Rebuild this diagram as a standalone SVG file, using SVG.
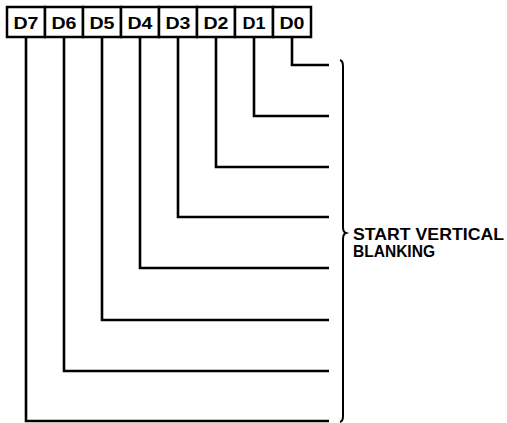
<svg xmlns="http://www.w3.org/2000/svg" width="507" height="423" viewBox="0 0 507 423">
<style>
.cell{fill:#fff;stroke:#000;stroke-width:2.5}
.lbl{font-family:"Liberation Sans",Arial,sans-serif;font-weight:bold;font-size:16px;fill:#000;text-anchor:middle}
.wire{fill:none;stroke:#000;stroke-width:2.6;stroke-linejoin:miter}
.brace{fill:none;stroke:#000;stroke-width:2}
.note{font-family:"Liberation Sans",Arial,sans-serif;font-weight:bold;font-size:16.5px;fill:#000}
</style>
<rect width="507" height="423" fill="#fff"/>
<g id="D7"><rect class="cell" x="7" y="7" width="38" height="30"/><text class="lbl" x="26" y="29" textLength="25" lengthAdjust="spacingAndGlyphs">D7</text></g>
<g id="D6"><rect class="cell" x="45" y="7" width="38" height="30"/><text class="lbl" x="64" y="29" textLength="25" lengthAdjust="spacingAndGlyphs">D6</text></g>
<g id="D5"><rect class="cell" x="83" y="7" width="38" height="30"/><text class="lbl" x="102" y="29" textLength="25" lengthAdjust="spacingAndGlyphs">D5</text></g>
<g id="D4"><rect class="cell" x="121" y="7" width="38" height="30"/><text class="lbl" x="140" y="29" textLength="25" lengthAdjust="spacingAndGlyphs">D4</text></g>
<g id="D3"><rect class="cell" x="159" y="7" width="38" height="30"/><text class="lbl" x="178" y="29" textLength="25" lengthAdjust="spacingAndGlyphs">D3</text></g>
<g id="D2"><rect class="cell" x="197" y="7" width="38" height="30"/><text class="lbl" x="216" y="29" textLength="25" lengthAdjust="spacingAndGlyphs">D2</text></g>
<g id="D1"><rect class="cell" x="235" y="7" width="38" height="30"/><text class="lbl" x="254" y="29" textLength="23" lengthAdjust="spacingAndGlyphs">D1</text></g>
<g id="D0"><rect class="cell" x="273" y="7" width="38" height="30"/><text class="lbl" x="292" y="29" textLength="25" lengthAdjust="spacingAndGlyphs">D0</text></g>
<g id="connectors">
<path class="wire" d="M292 37 V65 H329"/>
<path class="wire" d="M254 37 V116 H329"/>
<path class="wire" d="M216 37 V167 H329"/>
<path class="wire" d="M178 37 V217 H329"/>
<path class="wire" d="M140 37 V268 H329"/>
<path class="wire" d="M102 37 V320 H329"/>
<path class="wire" d="M64 37 V371 H329"/>
<path class="wire" d="M26 37 V421 H329"/>
</g>
<g id="brace">
<path class="brace" d="M340 60 Q343 61 343 66 L343 227 Q343 232 346 233 Q343 234 343 239 L343 416 Q343 421 340 422"/>
<text class="note" x="353" y="240" textLength="151" lengthAdjust="spacingAndGlyphs">START VERTICAL</text>
<text class="note" x="353" y="257" textLength="82" lengthAdjust="spacingAndGlyphs">BLANKING</text>
</g>
</svg>
